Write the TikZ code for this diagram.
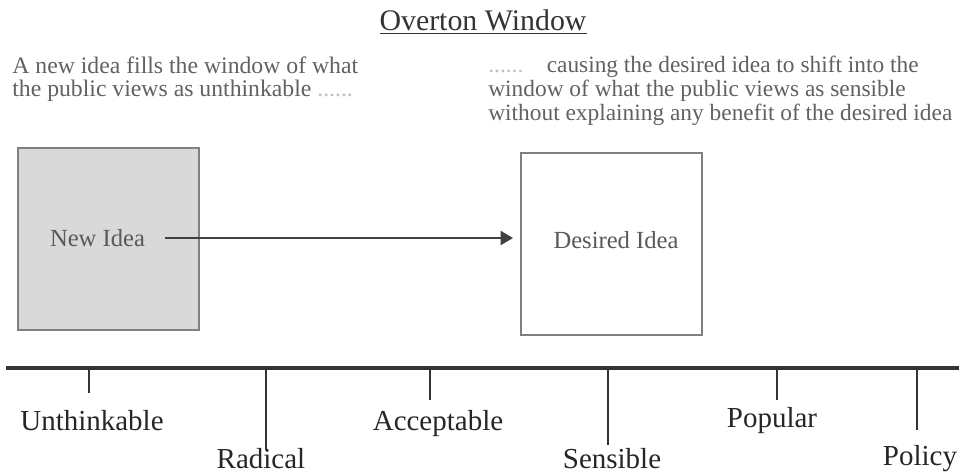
\documentclass[tikz,border=0pt]{standalone}
\usepackage{fontspec}
\setmainfont{Liberation Serif}
\usetikzlibrary{arrows.meta,positioning}

\begin{document}
\begin{tikzpicture}[x=0.02cm, y=-0.02cm,
    note/.style={anchor=north west, align=left, inner sep=0pt, text=black!62, font=\fontsize{13.5}{13.6}\selectfont},
    box/.style={draw=black!50, line width=1.1pt, minimum width=3.62cm, minimum height=3.64cm, inner sep=0pt},
    idea/.style={inner sep=0pt, text=black!65, font=\fontsize{14}{16}\selectfont},
    level/.style={anchor=base, inner sep=0pt, text=black!85, font=\fontsize{16.5}{18}\selectfont},
    tick/.style={line width=1.5pt, black!80},
    axis/.style={line width=2pt, black!80}]
    \useasboundingbox (0,0) rectangle (959,474);

    % Title
    \node[anchor=base, inner sep=0pt, text=black!80, font=\fontsize{17}{19}\selectfont] (title) at (483,30) {\underline{Overton Window}};

    % Notes
    \node[note] (leftnote) at (12,56) {A new idea fills the window of what\\the public views as unthinkable {\color{black!25}......}};
    \node[note, font=\fontsize{13.3}{13.6}\selectfont] (rightnote) at (488,56) {{\color{black!25}......}\quad causing the desired idea to shift into the\\window of what the public views as sensible\\without explaining any benefit of the desired idea};

    % Boxes
    \node[box, fill=black!15] (newbox) at (108.5,239) {};
    \node[box, fill=white] (desiredbox) at (611.5,244) {};
    \node[idea] (newidea) at (97.5,238) {New Idea};
    \node[idea] (desired) at (616,240) {Desired Idea};

    % Arrow
    \draw[black!75, line width=0.8pt, -{Triangle[length=7pt,width=8pt]}, shorten <=11pt, shorten >=4pt] (newidea.east) -- (newidea.east -| desiredbox.west);

    % Scale
    \coordinate (axisL) at (6,368);
    \coordinate (axisR) at (959,368);
    \draw[axis] (axisL) -- (axisR);
    \foreach \name/\tx/\tend/\lx/\ly/\lab in {unthink/89/393/92/430/Unthinkable, radical/266/450/261/468/Radical, accept/430/400/438/430/Acceptable, sensible/608/445/612/468/Sensible, popular/777/400/772/427/Popular, policy/917/430/920/465/Policy} {
        \coordinate (top\name) at (\tx,368);
        \coordinate (end\name) at (\tx,\tend);
        \draw[tick] (top\name) -- (end\name);
        \node[level] (lab\name) at (\lx,\ly) {\lab};
    }
\end{tikzpicture}
\end{document}
